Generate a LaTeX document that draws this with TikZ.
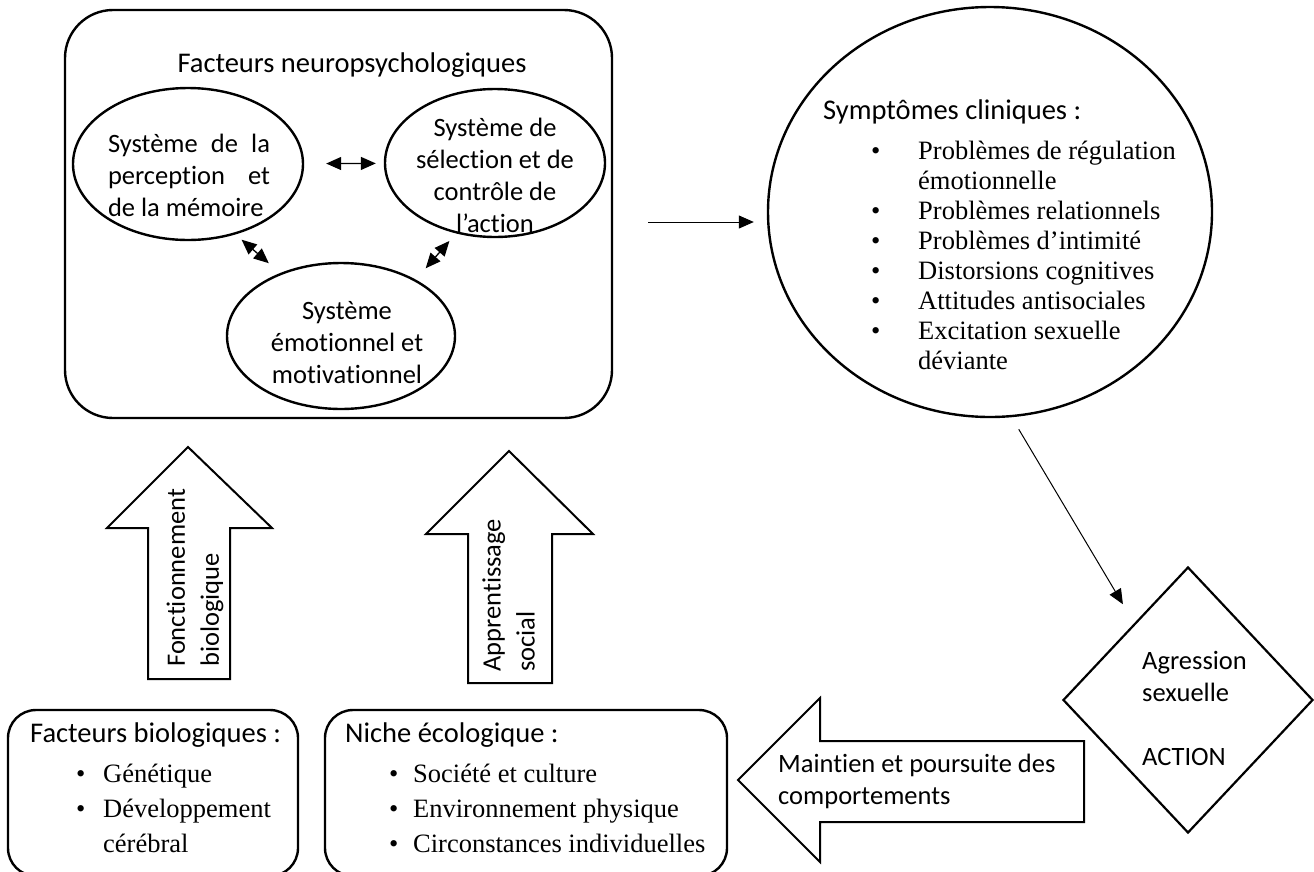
\documentclass[tikz,border=0pt]{standalone}
\usepackage{fontspec}
\setmainfont{Carlito}[Ligatures={NoCommon,NoContextual}]
\newfontfamily\tnr{Liberation Serif}
\usetikzlibrary{shapes.geometric,arrows.meta,positioning}

\begin{document}
\begin{tikzpicture}[y=-1pt,x=1pt,
	panel/.style={draw,line width=2.4pt,rounded corners=#1},
	ell/.style={draw,ellipse,line width=2.4pt,inner sep=0pt},
	txt/.style={inner sep=0pt,align=center,font=\fontsize{26.5}{32}\selectfont},
	head/.style={inner sep=0pt,font=\fontsize{28.5}{34}\selectfont},
	lst/.style={inner sep=0pt,anchor=west,align=left,font=\tnr\fontsize{26.5}{#1}\selectfont},
	blk/.style={draw,line width=2pt},
	dbl/.style={line width=1.3pt,{Triangle[length=15pt,width=13pt]}-{Triangle[length=15pt,width=13pt]}},
	conn/.style={line width=1pt,-{Triangle[length=15pt,width=13pt]}}]
	\newcommand\Puce[1]{\makebox[#1][l]{\textbullet}}
	\newcommand\Retrait[1]{\hspace*{#1}}

	\useasboundingbox (0,0) rectangle (1314,871);

	\node[panel=48pt,minimum width=547pt,minimum height=408pt] (neuro) at (338.5,214) {};
	\node[head] (neuroT) at (352,65) {Facteurs neuropsychologiques};

	\node[ell,minimum width=230pt,minimum height=152pt] (perc) at (188,164) {};
	\node[ell,minimum width=220pt,minimum height=148pt] (sel) at (495,163) {};
	\node[ell,minimum width=228pt,minimum height=146pt] (emo) at (341,336) {};
	\node[txt] (percT) at (189,175) {\makebox[162pt][s]{Système de la}\\\makebox[162pt][s]{perception et}\\\makebox[162pt][l]{de la mémoire}};
	\node[txt] (selT) at (495,175) {Système de\\sélection et de\\contrôle de\\l’action};
	\node[txt] (emoT) at (347,343) {Système\\émotionnel et\\motivationnel};

	\draw[dbl,shorten <=22pt,shorten >=8pt] (perc) -- (sel);
	\draw[dbl,shorten <=8pt,shorten >=15pt] (perc.-56) -- (emo.134);
	\draw[dbl,shorten <=10pt,shorten >=15pt] (sel.-119) -- (emo.37);

	\node[ell,minimum width=444pt,minimum height=410pt] (symp) at (990,212) {};
	\node[head,anchor=west] (sympT) at (823,112) {Symptômes cliniques :};
	\node[lst=30] (sympL) at (871,255) {\Puce{47pt}Problèmes de régulation\\\Retrait{47pt}émotionnelle\\\Puce{47pt}Problèmes relationnels\\\Puce{47pt}Problèmes d’intimité\\\Puce{47pt}Distorsions cognitives\\\Puce{47pt}Attitudes antisociales\\\Puce{47pt}Excitation sexuelle\\\Retrait{47pt}déviante};

	\coordinate (a0) at (648,222);
	\draw[conn,shorten >=13pt] (a0) -- (a0 -| symp.west);

	\node[draw,diamond,line width=2.2pt,inner sep=0pt,minimum width=250pt,minimum height=266pt] (act) at (1188,700) {};
	\node[txt,anchor=west,align=left] (actT) at (1142,708) {Agression\\sexuelle\\[32pt]ACTION};
	\draw[conn,shorten <=14pt,shorten >=22pt] (symp.-84) -- (act.125);

	\draw[blk] (738,780) -- (820,698) -- (820,741) -- (1084,741) -- (1084,822) -- (820,822) -- (820,862) -- cycle;
	\node[txt,anchor=west,align=left] (mainT) at (778,781) {Maintien et poursuite des\\comportements};

	\draw[blk] (188,447) -- (272,528) -- (230,528) -- (230,679) -- (148,679) -- (148,528) -- (107,528) -- cycle;
	\node[txt,rotate=90,anchor=west,align=left,font=\fontsize{26.5}{34}\selectfont] (foncT) at (195,667) {Fonctionnement\\biologique};
	\draw[blk] (509,451) -- (593,534) -- (552,534) -- (552,683) -- (468,683) -- (468,534) -- (426,534) -- cycle;
	\node[txt,rotate=90,anchor=west,align=left,font=\fontsize{26.5}{34}\selectfont] (apprT) at (508.5,672) {Apprentissage\\social};

	\draw[panel=28pt] (8,710) rectangle (298,876);
	\node[head,anchor=west] (bioT) at (30,735) {Facteurs biologiques :};
	\node[lst=35] (bioL) at (76,808) {\Puce{27pt}Génétique\\\Puce{27pt}Développement\\\Retrait{27pt}cérébral};

	\draw[panel=28pt] (325,710) rectangle (727,876);
	\node[head,anchor=west] (nicheT) at (345,735) {Niche écologique :};
	\node[lst=35] (nicheL) at (389,808) {\Puce{24pt}Société et culture\\\Puce{24pt}Environnement physique\\\Puce{24pt}Circonstances individuelles};
\end{tikzpicture}
\end{document}
